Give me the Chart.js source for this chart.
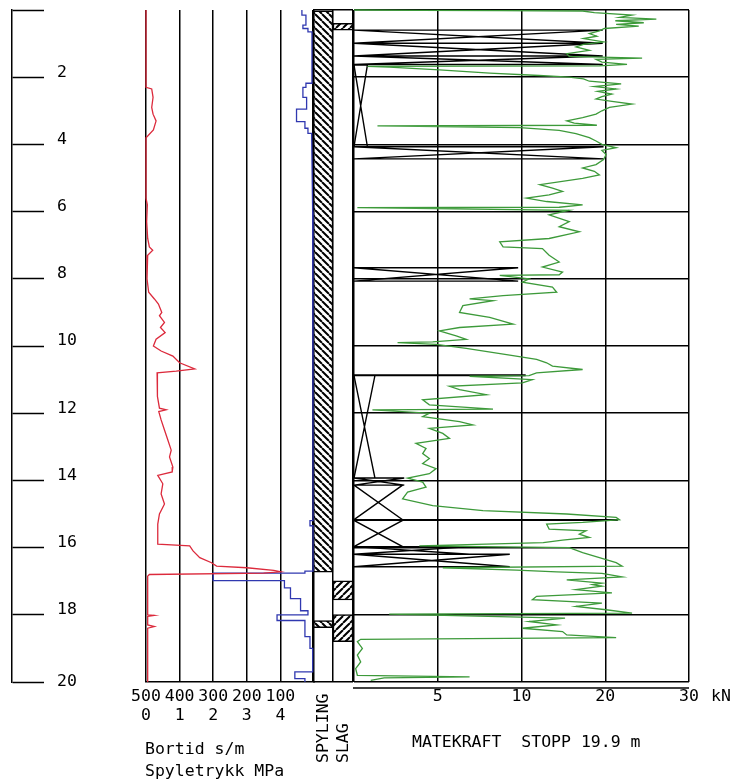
<!DOCTYPE html>
<html>
<head>
<meta charset="utf-8">
<title>Totalsondering</title>
<script src="https://cdn.jsdelivr.net/npm/chart.js@4.4.1/dist/chart.umd.min.js"></script>
<style>
  html, body { margin: 0; padding: 0; background: #fff; }
  #wrap { position: relative; width: 735px; height: 782px; }
  #wrap canvas { position: absolute; left: 0; top: 0; }
</style>
</head>
<body>
<div id="wrap">
  <canvas id="depthChart" width="735" height="782"></canvas>
  <canvas id="modeChart" width="735" height="782"></canvas>
  <canvas id="flushChart" width="735" height="782"></canvas>
  <canvas id="forceChart" width="735" height="782"></canvas>
</div>
<script>
// depth (m)
const depthMax = 20;
const depthStep = 2;

// spyletrykk (MPa), red line
const spyleDepth = [0, 2.3, 2.35, 2.6, 2.9, 3.1, 3.3, 3.57, 3.75, 3.8,
  5.6, 5.8, 6.3, 6.8, 7.05, 7.15, 7.3, 8.0, 8.4, 8.6,
  8.75, 9.0, 9.1, 9.3, 9.45, 9.6, 9.8, 10.0, 10.15, 10.3,
  10.5, 10.68, 10.75, 10.8, 11.2, 11.5, 11.85, 11.9, 11.95, 12.2,
  12.5, 12.8, 13.1, 13.3, 13.6, 13.75, 13.85, 14.1, 14.4, 14.7,
  15.0, 15.3, 15.9, 15.95, 16.1, 16.3, 16.45, 16.55, 16.6, 16.68,
  16.72, 16.76, 16.8, 16.85, 18.0, 18.02, 18.05, 18.3, 18.35, 18.4,
  20];
const spyleTrykk = [0, 0, 0.17, 0.21, 0.17, 0.21, 0.3, 0.22, 0.05, 0,
  0, 0.04, 0.02, 0.05, 0.1, 0.2, 0.05, 0.03, 0.08, 0.25,
  0.37, 0.47, 0.4, 0.55, 0.43, 0.57, 0.3, 0.22, 0.45, 0.8,
  1.0, 1.45, 0.9, 0.33, 0.33, 0.35, 0.4, 0.6, 0.38, 0.45,
  0.55, 0.65, 0.75, 0.7, 0.8, 0.78, 0.35, 0.5, 0.45, 0.55,
  0.4, 0.35, 0.35, 1.3, 1.4, 1.6, 1.95, 2.1, 3.0, 3.8,
  4.0, 3.5, 0.1, 0.05, 0.05, 0.25, 0.05, 0.05, 0.25, 0.05,
  0.05];

// bortid (s/m), blue line
const bortidDepth = [0, 0.15, 0.15, 0.45, 0.45, 0.55, 0.55, 0.65, 0.65,
  2.18, 2.18, 2.3, 2.3, 2.6, 2.6, 2.95, 2.95,
  3.32, 3.32, 3.52, 3.52, 3.67, 3.67, 6, 10,
  15.2, 15.2, 15.35, 15.35, 16.7, 16.7, 16.76, 16.76,
  16.98, 16.98, 17.2, 17.2, 17.52, 17.52, 17.88, 17.88,
  18.0, 18.0, 18.17, 18.17, 18.65, 18.65, 19.0, 19.0,
  19.7, 19.7, 19.9, 19.9, 20];
const bortid = [36, 36, 24, 24, 33, 33, 18, 18, 6,
  6, 24, 24, 33, 33, 22, 22, 52,
  52, 27, 27, 18, 18, 7, 4, 3,
  3, 12, 12, 3, 3, 27, 27, 300,
  300, 88, 88, 70, 70, 40, 40, 18,
  18, 110, 110, 27, 27, 12, 12, 4,
  4, 57, 57, 27, 27];

// matekraft (kN), green line
const kraftDepth = [0, 0.01, 0.02, 0.03, 0.08, 0.15, 0.22, 0.27, 0.32, 0.38,
  0.43, 0.48, 0.55, 0.62, 0.7, 0.78, 0.85, 0.95, 1.02, 1.1,
  1.2, 1.3, 1.38, 1.43, 1.47, 1.55, 1.62, 1.66, 1.68, 1.7,
  1.78, 1.88, 1.95, 2.0, 2.05, 2.12, 2.2, 2.28, 2.35, 2.42,
  2.5, 2.58, 2.65, 2.72, 2.8, 2.9, 3.0, 3.1, 3.2, 3.3,
  3.37, 3.43, 3.45, 3.5, 3.58, 3.68, 3.8, 3.9, 4.0, 4.1,
  4.18, 4.3, 4.45, 4.6, 4.7, 4.8, 4.91, 5.01, 5.2, 5.3,
  5.4, 5.5, 5.6, 5.7, 5.8, 5.87, 5.88, 5.96, 6.1, 6.3,
  6.45, 6.6, 6.8, 6.9, 7.05, 7.1, 7.3, 7.5, 7.65, 7.8,
  7.88, 7.9, 8.0, 8.1, 8.25, 8.4, 8.5, 8.6, 8.65, 8.8,
  9.0, 9.15, 9.35, 9.45, 9.55, 9.7, 9.8, 9.88, 9.9, 9.95,
  10.07, 10.27, 10.4, 10.5, 10.6, 10.7, 10.8, 10.88, 10.9, 11.0,
  11.1, 11.2, 11.3, 11.45, 11.6, 11.75, 11.88, 11.9, 12.0, 12.1,
  12.25, 12.35, 12.45, 12.6, 12.75, 12.9, 13.05, 13.2, 13.35, 13.5,
  13.65, 13.8, 13.93, 14.05, 14.2, 14.35, 14.55, 14.75, 14.9, 15.0,
  15.1, 15.17, 15.25, 15.3, 15.45, 15.5, 15.6, 15.7, 15.78, 15.85,
  15.95, 16.0, 16.15, 16.3, 16.45, 16.55, 16.6, 16.67, 16.72, 16.77,
  16.87, 16.96, 17.06, 17.1, 17.15, 17.25, 17.35, 17.45, 17.55, 17.65,
  17.75, 17.85, 17.95, 17.98, 18.1, 18.2, 18.3, 18.4, 18.5, 18.6,
  18.68, 18.73, 18.8, 19.0, 19.2, 19.4, 19.6, 19.8, 19.85, 19.88,
  19.95];
const matekraft = [0, 3.9, 8.7, 17.3, 18.7, 23.2, 21.7, 26.1, 21.2, 24.6,
  21.3, 24.0, 19.9, 19.3, 18.1, 19.0, 17.4, 19.8, 17.4, 16.5,
  18.1, 15.4, 15.7, 24.4, 18.9, 19.6, 22.6, 19.3, 0.8, 2.1,
  5.1, 8.1, 12.1, 15.7, 17.4, 18.1, 21.9, 18.7, 21.3, 19.1,
  20.8, 19.6, 18.9, 20.8, 23.2, 20.5, 19.6, 18.9, 17.3, 15.4,
  16.3, 19.0, 1.4, 9.9, 14.5, 16.5, 18.1, 18.9, 19.6, 21.3,
  19.6, 20.1, 19.8, 18.9, 17.3, 18.7, 19.3, 17.3, 12.2, 13.7,
  14.9, 13.3, 10.6, 13.0, 17.3, 14.5, 0.2, 15.7, 13.3, 15.7,
  14.5, 16.9, 13.3, 8.7, 8.9, 12.5, 13.3, 14.5, 12.5, 14.9,
  14.5, 8.7, 10.9, 10.1, 13.7, 14.2, 8.9, 6.9, 8.3, 6.5,
  6.3, 8.1, 9.5, 6.3, 5.1, 6.1, 6.7, 4.7, 2.6, 4.9,
  6.7, 9.3, 11.8, 13.0, 13.7, 17.3, 11.8, 10.9, 6.9, 11.3,
  10.1, 5.7, 6.3, 7.9, 4.1, 4.5, 8.3, 1.1, 4.5, 4.1,
  6.3, 7.1, 4.5, 5.3, 5.7, 3.7, 4.3, 4.1, 4.5, 4.1,
  4.9, 4.5, 3.2, 4.1, 4.3, 3.2, 2.9, 4.7, 7.7, 15.4,
  21.3, 21.7, 17.3, 13.0, 13.3, 17.7, 16.9, 18.1, 14.9, 12.6,
  3.9, 15.7, 17.3, 19.3, 21.3, 22.0, 5.3, 9.7, 14.2, 19.6,
  22.0, 15.4, 19.6, 18.5, 19.6, 16.5, 20.8, 11.8, 11.3, 19.6,
  16.5, 20.1, 23.2, 2.1, 15.2, 10.9, 14.2, 10.1, 14.9, 15.4,
  21.3, 0.4, 0.2, 0.5, 0.2, 0.4, 0.1, 0.2, 6.9, 1.8,
  1.0];

// crossed boxes in the force panel: top, bottom (m) and width (kN)
const kryssTopp = [0.6, 0.99, 1.37, 1.64, 4.07, 7.67, 10.86, 10.88, 13.93, 14.14, 15.17, 15.19, 15.97, 16.2];
const kryssBunn = [0.99, 1.37, 1.62, 4.07, 4.43, 8.07, 10.88, 13.93, 14.14, 15.17, 15.19, 15.97, 16.2, 16.57];
const kryssBredde = [19.7, 19.7, 19.7, 0.8, 19.8, 9.8, 10.5, 1.25, 3.0, 2.9, 21.5, 2.9, 6.9, 9.3];

// hatched intervals (m)
const kolonner = ['SPYLING', 'SLAG'];
const spylingFra = [0, 18.17];
const spylingTil = [16.73, 18.38];
const slagFra = [0.4, 16.99, 17.99];
const slagTil = [0.6, 17.56, 18.8];

// axis ticks
const bortidMax = 500;
const trykkMax = 5;
const kraftTicks = [0, 5, 10, 20, 30];

const FONT = "'DejaVu Sans Mono', monospace";
Chart.defaults.font.family = FONT;
Chart.defaults.font.size = 16.5;
Chart.defaults.color = '#000';
Chart.defaults.animation = false;
Chart.defaults.responsive = false;
Chart.defaults.devicePixelRatio = 1;
Chart.defaults.events = [];
Chart.defaults.plugins.legend.display = false;
Chart.defaults.plugins.tooltip.enabled = false;

// 0-10 kN on the first half of the axis, 10-30 kN on the second half
class KraftScale extends Chart.LinearScale {
  buildTicks() {
    return kraftTicks.map(v => ({ value: v }));
  }
  getPixelForValue(value) {
    const v = Number(value);
    const t = v <= 10 ? v / 20 : 0.5 + (v - 10) / 40;
    return this.getPixelForDecimal(t);
  }
  getValueForPixel(pixel) {
    const t = this.getDecimalForPixel(pixel);
    return t <= 0.5 ? t * 20 : 10 + (t - 0.5) * 40;
  }
}
KraftScale.id = 'kraft';
KraftScale.defaults = {};
Chart.register(KraftScale);

// plain text and extra lines drawn on top
const notes = {
  id: 'notes',
  afterDraw(chart, args, opts) {
    const ctx = chart.ctx;
    const items = opts.items ? opts.items(chart) : [];
    ctx.save();
    ctx.fillStyle = '#000';
    ctx.strokeStyle = '#000';
    ctx.font = '16.5px ' + FONT;
    items.forEach(it => {
      if (it.line) {
        ctx.lineWidth = 1.5;
        ctx.beginPath();
        ctx.moveTo(it.line[0], it.line[1]);
        ctx.lineTo(it.line[2], it.line[3]);
        ctx.stroke();
        return;
      }
      ctx.save();
      ctx.translate(it.x, it.y);
      if (it.rotate) ctx.rotate(it.rotate);
      ctx.textAlign = 'left';
      ctx.textBaseline = 'middle';
      ctx.fillText(it.text, 0, 0);
      ctx.restore();
    });
    ctx.restore();
  }
};

function points(depths, values) {
  return depths.map((d, i) => ({ x: values[i], y: d }));
}

function hatch(ctx, flip) {
  const s = 7;
  const tile = document.createElement('canvas');
  tile.width = tile.height = s;
  const g = tile.getContext('2d');
  g.fillStyle = '#fff';
  g.fillRect(0, 0, s, s);
  g.strokeStyle = '#000';
  g.lineWidth = 2;
  g.beginPath();
  for (const o of [-s, 0, s]) {
    if (flip) { g.moveTo(o, s); g.lineTo(o + s, 0); }
    else { g.moveTo(o, 0); g.lineTo(o + s, s); }
  }
  g.stroke();
  return ctx.createPattern(tile, 'repeat');
}

const depthAxis = {
  type: 'linear', min: 0, max: depthMax, reverse: true,
  afterFit: s => { s.width = 0; },
  ticks: { display: false, stepSize: depthStep },
  grid: { color: '#000', lineWidth: 1.5, drawTicks: false },
  border: { display: false }
};

// depth scale on the far left
new Chart(document.getElementById('depthChart'), {
  type: 'line',
  data: { datasets: [] },
  options: {
    layout: { padding: { left: 0, right: 643, top: 10, bottom: 100 } },
    scales: {
      x: { display: false },
      y: {
        type: 'linear', position: 'right', min: 0, max: depthMax, reverse: true,
        afterFit: s => { s.width = 80; s.paddingTop = 0; s.paddingBottom = 0; },
        ticks: {
          stepSize: depthStep, padding: 13, font: { lineHeight: 0.6 },
          callback: v => v === 0 ? '' : (v === depthMax ? String(v) : [String(v), ''])
        },
        grid: { drawOnChartArea: false, tickLength: 32, tickColor: '#000', tickWidth: 1.5 },
        border: { display: true, color: '#000', width: 1.5 }
      }
    }
  }
});

// SPYLING / SLAG columns
const modeCanvas = document.getElementById('modeChart');
const modeCtx = modeCanvas.getContext('2d');
const hatchDown = hatch(modeCtx, false);
const hatchUp = hatch(modeCtx, true);
const modeSets = [];
spylingFra.forEach((f, i) => modeSets.push({ label: 'SPYLING', data: [[f, spylingTil[i]], null], backgroundColor: hatchDown }));
slagFra.forEach((f, i) => modeSets.push({ label: 'SLAG', data: [null, [f, slagTil[i]]], backgroundColor: hatchUp }));

new Chart(modeCanvas, {
  type: 'bar',
  data: { labels: kolonner, datasets: modeSets },
  options: {
    layout: { padding: { left: 313, right: 382, top: 10, bottom: 100 } },
    datasets: {
      bar: { grouped: false, barPercentage: 1, categoryPercentage: 1,
        borderColor: '#000', borderWidth: 1.5, borderSkipped: false }
    },
    scales: {
      x: {
        type: 'category', offset: true,
        afterFit: s => { s.height = 0; },
        ticks: { display: false },
        grid: { offset: true, color: '#000', lineWidth: 1.5, drawTicks: false },
        border: { display: false }
      },
      y: Object.assign({}, depthAxis, {
        grid: { color: c => (c.tick.value === 0 || c.tick.value === depthMax) ? '#000' : 'rgba(0,0,0,0)',
          lineWidth: 1.5, drawTicks: false }
      })
    },
    plugins: {
      notes: {
        items: c => kolonner.map((k, i) => ({
          text: k, x: c.scales.x.getPixelForValue(i) + 1, y: c.chartArea.bottom + 81, rotate: -Math.PI / 2
        }))
      }
    }
  },
  plugins: [notes]
});

// bortid / spyletrykk panel
new Chart(document.getElementById('flushChart'), {
  type: 'line',
  data: {
    datasets: [
      { label: 'Spyletrykk MPa', xAxisID: 'trykk', data: points(spyleDepth, spyleTrykk),
        borderColor: '#dc2a3c', borderWidth: 1.3, pointRadius: 0, clip: false },
      { label: 'Bortid s/m', xAxisID: 'bortid', data: points(bortidDepth, bortid),
        borderColor: '#3038b0', borderWidth: 1.3, pointRadius: 0, clip: false }
    ]
  },
  options: {
    indexAxis: 'y',
    layout: { padding: { left: 146, right: 421, top: 10, bottom: 56 } },
    scales: {
      y: { type: 'linear', display: false, min: 0, max: depthMax, reverse: true },
      bortid: {
        type: 'linear', axis: 'x', position: 'bottom', weight: 0,
        min: 0, max: bortidMax, reverse: true,
        afterFit: s => { s.height = 24; },
        ticks: { stepSize: 100, padding: 5, autoSkip: false, maxRotation: 0,
          callback: v => v === 0 ? '' : String(v) },
        grid: { display: false, drawTicks: false },
        border: { display: true, color: '#000', width: 1.5 }
      },
      trykk: {
        type: 'linear', axis: 'x', position: 'bottom', weight: 1,
        min: 0, max: trykkMax,
        afterFit: s => { s.height = 20; },
        ticks: { stepSize: 1, padding: 0, autoSkip: false, maxRotation: 0,
          callback: v => v === trykkMax ? '' : String(v) },
        grid: { color: '#000', lineWidth: 1.5, drawTicks: false },
        border: { display: false }
      }
    },
    plugins: {
      notes: {
        items: c => [
          { text: 'Bortid s/m', x: c.chartArea.left - 1, y: c.chartArea.bottom + 68 },
          { text: 'Spyletrykk MPa', x: c.chartArea.left - 1, y: c.chartArea.bottom + 90 }
        ]
      }
    }
  },
  plugins: [notes]
});

// matekraft panel
const kryssPts = [];
kryssTopp.forEach((t, i) => {
  const b = kryssBunn[i], w = kryssBredde[i];
  kryssPts.push({ x: 0, y: t }, { x: w, y: t }, { x: 0, y: b }, { x: w, y: b }, { x: 0, y: t }, { x: null, y: null });
});

new Chart(document.getElementById('forceChart'), {
  type: 'line',
  data: {
    datasets: [
      { label: 'Matekraft', data: points(kraftDepth, matekraft),
        borderColor: '#3d9a3a', borderWidth: 1.3, pointRadius: 0, clip: false },
      { label: 'Kryss', data: kryssPts,
        borderColor: '#000', borderWidth: 1.4, pointRadius: 0, spanGaps: false }
    ]
  },
  options: {
    indexAxis: 'y',
    layout: { padding: { left: 354, right: 46, top: 10, bottom: 74 } },
    scales: {
      x: {
        type: 'kraft', min: 0, max: 30,
        afterFit: s => { s.height = 26; },
        ticks: { padding: 5, autoSkip: false, maxRotation: 0,
          callback: v => v === 0 ? '' : String(v) },
        grid: { color: '#000', lineWidth: 1.5, drawTicks: false },
        border: { display: false }
      },
      y: depthAxis
    },
    plugins: {
      notes: {
        items: c => [
          { line: [c.chartArea.left - 1, c.chartArea.bottom + 6, c.chartArea.right, c.chartArea.bottom + 6] },
          { text: 'kN', x: c.scales.x.getPixelForValue(30) + 22, y: c.chartArea.bottom + 15 },
          { text: 'MATEKRAFT  STOPP 19.9 m', x: c.chartArea.left + 58, y: c.chartArea.bottom + 61 }
        ]
      }
    }
  },
  plugins: [notes]
});
</script>
</body>
</html>
